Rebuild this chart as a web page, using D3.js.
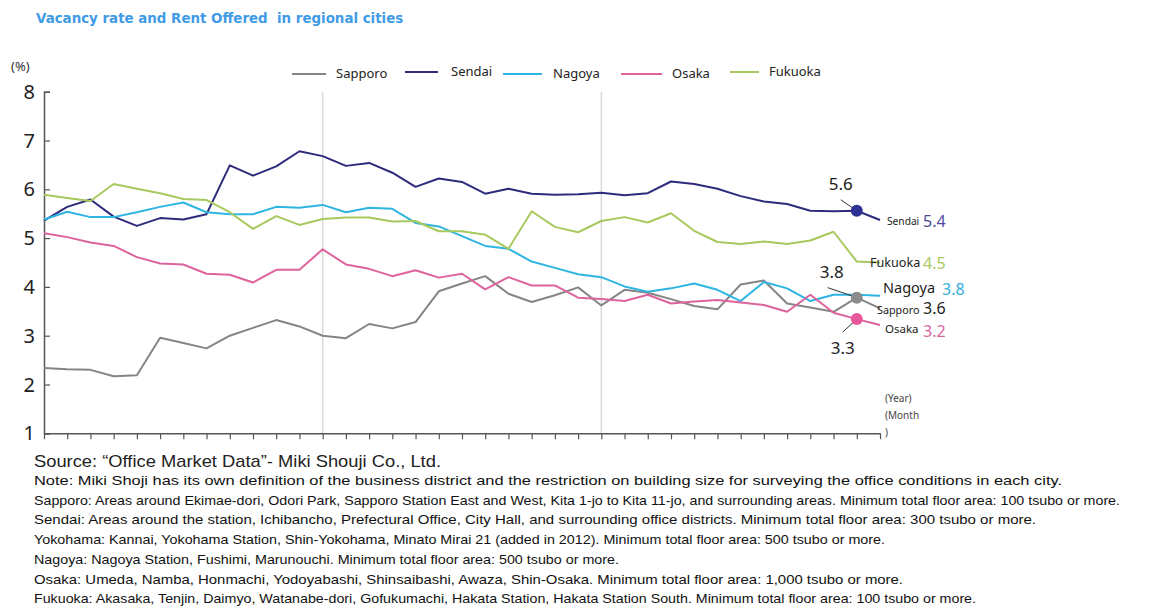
<!DOCTYPE html>
<html>
<head>
<meta charset="utf-8">
<script src="https://cdn.jsdelivr.net/npm/d3@7"></script>
<style>
  body { margin: 0; background: #fff; }
  svg text { font-family: "Noto Sans", "DejaVu Sans", sans-serif; }
</style>
</head>
<body>
<svg id="chart" width="1151" height="613"></svg>
<script>
// vacancy rate (%) per half-year period, 37 points
var sapporo = [2.34,2.31,2.30,2.17,2.19,2.96,2.85,2.74,3.00,3.16,3.32,3.19,3.00,2.95,3.24,3.15,3.28,3.91,4.07,4.22,3.86,3.69,3.83,3.99,3.62,3.94,3.88,3.75,3.61,3.54,4.05,4.13,3.66,3.58,3.49,3.78,3.56];
var sendai  = [5.36,5.64,5.79,5.44,5.25,5.41,5.38,5.49,6.49,6.28,6.47,6.78,6.68,6.48,6.54,6.34,6.05,6.22,6.15,5.91,6.01,5.91,5.89,5.90,5.93,5.88,5.92,6.16,6.11,6.01,5.86,5.75,5.70,5.56,5.55,5.56,5.37];
var nagoya  = [5.38,5.54,5.43,5.43,5.53,5.64,5.73,5.53,5.49,5.49,5.64,5.62,5.68,5.53,5.62,5.60,5.31,5.24,5.04,4.84,4.78,4.52,4.39,4.26,4.20,4.01,3.90,3.97,4.07,3.94,3.71,4.10,3.97,3.71,3.84,3.84,3.82];
var osaka   = [5.10,5.02,4.91,4.84,4.61,4.48,4.46,4.27,4.25,4.09,4.35,4.35,4.77,4.46,4.37,4.22,4.34,4.19,4.27,3.95,4.20,4.03,4.03,3.78,3.75,3.71,3.84,3.66,3.70,3.73,3.68,3.63,3.49,3.84,3.47,3.34,3.22];
var fukuoka = [5.89,5.82,5.76,6.11,6.01,5.92,5.80,5.78,5.53,5.19,5.45,5.27,5.39,5.42,5.42,5.34,5.35,5.14,5.14,5.07,4.78,5.55,5.23,5.12,5.35,5.43,5.32,5.51,5.15,4.92,4.88,4.93,4.88,4.95,5.13,4.52,4.50];

var cities = ["Sapporo", "Sendai", "Nagoya", "Osaka", "Fukuoka"];
var seriesValues = [sapporo, sendai, nagoya, osaka, fukuoka];
var yTicks = [1, 2, 3, 4, 5, 6, 7, 8];
var dividerPeriods = [12, 24];
var markedPeriod = 35;
var markedCities = ["Sendai", "Sapporo", "Osaka"];
var markedLabels = ["5.6", "3.8", "3.3"];
var endLabels = ["3.6", "5.4", "3.8", "3.2", "4.5"];

var footerLines = [
  "Note: Miki Shoji has its own definition of the business district and the restriction on building size for surveying the office conditions in each city.",
  "Sapporo: Areas around Ekimae-dori, Odori Park, Sapporo Station East and West, Kita 1-jo to Kita 11-jo, and surrounding areas. Minimum total floor area: 100 tsubo or more.",
  "Sendai: Areas around the station, Ichibancho, Prefectural Office, City Hall, and surrounding office districts. Minimum total floor area: 300 tsubo or more.",
  "Yokohama: Kannai, Yokohama Station, Shin-Yokohama, Minato Mirai 21 (added in 2012). Minimum total floor area: 500 tsubo or more.",
  "Nagoya: Nagoya Station, Fushimi, Marunouchi. Minimum total floor area: 500 tsubo or more.",
  "Osaka: Umeda, Namba, Honmachi, Yodoyabashi, Shinsaibashi, Awaza, Shin-Osaka. Minimum total floor area: 1,000 tsubo or more.",
  "Fukuoka: Akasaka, Tenjin, Daimyo, Watanabe-dori, Gofukumachi, Hakata Station, Hakata Station South. Minimum total floor area: 100 tsubo or more."
];
var footerWidths = [1028, 1086, 1002, 851, 585, 869, 942];

var colors = {Sapporo: "#858585", Sendai: "#2e2b7c", Nagoya: "#2fb5e2", Osaka: "#de639c", Fukuoka: "#a7c95d"};
var markerColors = {Sendai: "#2e3192", Sapporo: "#8c8c8c", Osaka: "#e8579b"};
var valueColors = {Sapporo: "#222", Sendai: "#4d4a97", Nagoya: "#36b0dc", Osaka: "#d6689f", Fukuoka: "#a9c963"};

var svg = d3.select("#chart");
var nPts = sendai.length;

var x = d3.scaleLinear().domain([0, nPts - 1]).range([44, 880]);
var y = d3.scaleLinear().domain([1, 8]).range([433.3, 91.7]);

// title
svg.append("text").attr("x", 36).attr("y", 23)
  .style("font-family", "'DejaVu Sans', sans-serif")
  .style("font-weight", "bold").style("font-size", "13.4px")
  .style("white-space", "pre")
  .attr("fill", "#3f9be6")
  .text("Vacancy rate and Rent Offered  in regional cities");

svg.append("text").attr("x", 11).attr("y", 71)
  .style("font-size", "13px").attr("fill", "#333").text("(%)");

// dividers
svg.selectAll(".divider").data(dividerPeriods).enter().append("line")
  .attr("x1", d => x(d)).attr("x2", d => x(d))
  .attr("y1", y(8)).attr("y2", y(1))
  .attr("stroke", "#d9d9d9").attr("stroke-width", 1.5);

// y axis
var yAxis = svg.append("g").attr("transform", "translate(44,0)")
  .call(d3.axisRight(y).tickValues(yTicks).tickSize(6).tickFormat(""));
yAxis.select(".domain").attr("stroke", "#555").attr("stroke-width", 1.5);
yAxis.selectAll(".tick line").attr("stroke", "#555").attr("stroke-width", 1.2);
svg.selectAll(".ylab").data(yTicks).enter().append("text")
  .attr("x", 35).attr("y", d => y(d) + 7)
  .attr("text-anchor", "end").style("font-size", "20px").attr("fill", "#222")
  .text(d => d);

// x axis
var xAxis = svg.append("g").attr("transform", "translate(0," + y(1) + ")")
  .call(d3.axisBottom(x).tickValues(d3.range(nPts)).tickSize(6).tickSizeOuter(0).tickFormat(""));
xAxis.select(".domain").attr("stroke", "#555").attr("stroke-width", 1.5);
xAxis.selectAll(".tick line").attr("stroke", "#555").attr("stroke-width", 1.2);

svg.selectAll(".unit").data(["(Year)", "(Month", ")"]).enter().append("text")
  .attr("x", 885).attr("y", (d, i) => 402 + i * 17)
  .style("font-size", "10px").attr("fill", "#444").text(d => d);

// lines
var line = d3.line().x((d, i) => x(i)).y(d => y(d));
svg.selectAll(".series").data(seriesValues).enter().append("path")
  .attr("d", line).attr("fill", "none")
  .attr("stroke", (d, i) => colors[cities[i]]).attr("stroke-width", 2)
  .attr("stroke-linejoin", "round");

// legend
var legendX = [292, 405, 503, 621, 730];
var legendLen = [34, 33, 39, 41, 29];
var legendTextX = [336, 451, 553, 672, 769];
var legendY = [74, 72, 74, 74, 72];
var lg = svg.selectAll(".legend").data(cities).enter().append("g");
lg.append("line").attr("x1", (d, i) => legendX[i]).attr("x2", (d, i) => legendX[i] + legendLen[i])
  .attr("y1", (d, i) => legendY[i]).attr("y2", (d, i) => legendY[i])
  .attr("stroke", d => colors[d]).attr("stroke-width", 2);
lg.append("text").attr("x", (d, i) => legendTextX[i]).attr("y", (d, i) => legendY[i] + 4)
  .style("font-size", "13px").attr("fill", "#222").text(d => d);

// markers with leader lines
var markOff = {Sendai: [-16, -11, -16, -21], Sapporo: [-29, -10, -25, -20], Osaka: [-14, 13, -14, 35]};
markedCities.forEach(function(c, k) {
  var v = seriesValues[cities.indexOf(c)][markedPeriod];
  var px = x(markedPeriod), py = y(v), o = markOff[c];
  svg.append("line").attr("x1", px).attr("y1", py).attr("x2", px + o[0]).attr("y2", py + o[1])
    .attr("stroke", "#333").attr("stroke-width", 1);
  svg.append("circle").attr("cx", px).attr("cy", py).attr("r", 6).attr("fill", markerColors[c]);
  svg.append("text").attr("x", px + o[2]).attr("y", py + o[3])
    .attr("text-anchor", "middle").style("font-size", "17px").attr("fill", "#222")
    .text(markedLabels[k]);
});

// end labels: [name x, name baseline, name size, value baseline]
var endName = {Sapporo: [877, 314, 10.8, 314], Sendai: [887, 225, 10.2, 227], Nagoya: [883, 293, 14.5, 295],
               Osaka: [885, 333, 11.5, 337], Fukuoka: [870, 267, 12.6, 269]};
var endValX = {Sapporo: 923, Sendai: 923, Nagoya: 942, Osaka: 923, Fukuoka: 923};
cities.forEach(function(c, i) {
  var e = endName[c];
  svg.append("text").attr("x", e[0]).attr("y", e[1])
    .style("font-size", e[2] + "px").attr("fill", "#222").text(c);
  svg.append("text").attr("x", endValX[c]).attr("y", e[3])
    .style("font-size", "16px").attr("fill", valueColors[c]).text(endLabels[i]);
});

// footer
svg.append("text").attr("x", 34).attr("y", 467)
  .style("font-family", "'Liberation Sans', sans-serif").style("font-size", "17px")
  .attr("fill", "#222").attr("textLength", 407).attr("lengthAdjust", "spacingAndGlyphs")
  .text("Source: \u201cOffice Market Data\u201d- Miki Shouji Co., Ltd.");
svg.selectAll(".foot").data(footerLines).enter().append("text")
  .attr("x", 34).attr("y", (d, i) => 485 + i * 19.7)
  .style("font-family", "'Liberation Sans', sans-serif").style("font-size", "13.5px")
  .attr("fill", "#111")
  .attr("textLength", (d, i) => footerWidths[i]).attr("lengthAdjust", "spacingAndGlyphs")
  .text(d => d);
</script>
</body>
</html>
